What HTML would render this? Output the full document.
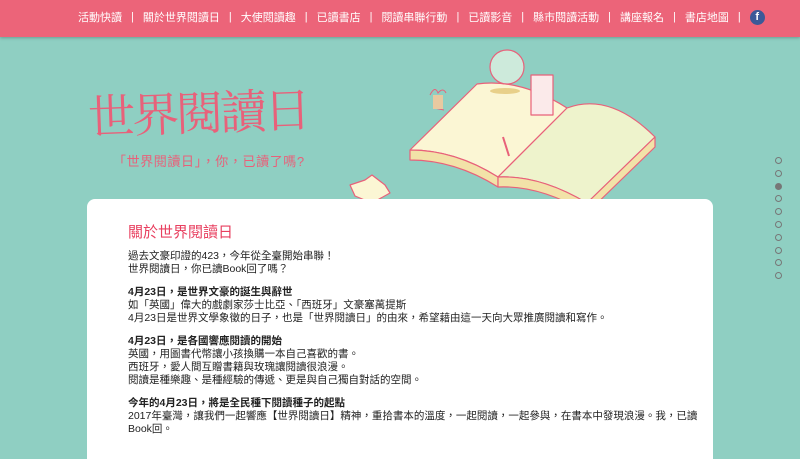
<!DOCTYPE html>
<html><head><meta charset="utf-8">
<style>
*{margin:0;padding:0;box-sizing:border-box}
body{width:800px;height:439px;overflow:hidden;background:#8fcfc2;font-family:"Liberation Sans","Noto Sans CJK TC",sans-serif;position:relative}
#nav{position:absolute;left:0;top:0;width:800px;height:37px;background:#ec6479;box-shadow:0 1px 3px rgba(0,0,0,.25)}
#nav .items{position:absolute;left:78px;top:9px;font-size:11px;color:#fff;white-space:nowrap;display:flex;align-items:center}
#nav .items span{display:inline-block}
#nav .sep{margin:0 9px}
#fb{display:inline-block;width:15px;height:15px;border-radius:50%;background:#3b5998;color:#fff;font-size:11px;font-weight:bold;text-align:center;line-height:15px}
#title{position:absolute;left:88px;top:76px;font-family:"Noto Serif CJK SC","Liberation Serif",serif;font-size:47px;line-height:70px;color:#e8617a;letter-spacing:-3px;transform:rotate(-2deg)}
#sub{position:absolute;left:113px;top:151px;font-size:13px;color:#e8617a;letter-spacing:0.6px}
#card{position:absolute;left:87px;top:199px;width:626px;height:260px;background:#fff;border-radius:8px 8px 0 0}
#card h2{position:absolute;left:41px;top:22px;font-size:15px;color:#e84060;font-weight:normal}
#card .t{position:absolute;left:41px;top:51px;font-size:10.5px;line-height:13px;color:#222;width:580px}
#card .t b{font-weight:bold}
#card p{margin-bottom:10px}
.dots{position:absolute;left:775px;top:157px}
.dot{width:7px;height:7px;border:1px solid #777;border-radius:50%;margin-bottom:5.8px}
.dot.on{background:#777}
</style></head><body>
<div id="nav">
<div class="items">
<span>活動快讀</span><span class="sep">|</span>
<span>關於世界閱讀日</span><span class="sep">|</span>
<span>大使閱讀趣</span><span class="sep">|</span>
<span>已讀書店</span><span class="sep">|</span>
<span>閱讀串聯行動</span><span class="sep">|</span>
<span>已讀影音</span><span class="sep">|</span>
<span>縣市閱讀活動</span><span class="sep">|</span>
<span>講座報名</span><span class="sep">|</span>
<span>書店地圖</span><span class="sep">|</span>
<span id="fb">f</span>
</div></div>
<div id="title">世界閱讀日</div>
<div id="sub">「世界閱讀日」，你，已讀了嗎?</div>
<svg style="position:absolute;left:0;top:0" width="800" height="439">
<g stroke="#e8617a" stroke-width="1.2" stroke-linejoin="round">
<path d="M410,150 L477,84 Q520,78 567,108 L498,177 Q455,150 410,150Z" fill="#fbf6d4"/>
<path d="M410,150 L410,160 Q455,160 498,187 L498,177 Q455,150 410,150Z" fill="#f2e2a8"/>
<path d="M498,177 L567,108 Q610,92 655,137 L587,203 Q540,175 498,177Z" fill="#eef3cc"/>
<path d="M498,177 L498,187 Q540,185 587,213 L655,147 L655,137 L587,203 Q540,175 498,177Z" fill="#f2e2a8"/>
<circle cx="507" cy="67" r="17" fill="#cdeadb"/>
<rect x="531" y="75" width="22" height="40" fill="#fbeaea"/>
<path d="M355,196 L350,185 L365,180 L372,175 L385,185 L390,193 L372,203Z" fill="#fbf6d4"/>
</g>
<ellipse cx="505" cy="91" rx="15" ry="3" fill="#e8d08a"/>
<path d="M430,95 q5,-10 8,-2 q5,-6 8,0 M434,108 l10,2" stroke="#e8617a" fill="none"/>
<rect x="433" y="95" width="10" height="14" fill="#e8c9a0"/>
<line x1="503" y1="137" x2="509" y2="156" stroke="#e8617a" stroke-width="2"/>
</svg>
<div id="card">
<h2>關於世界閱讀日</h2>
<div class="t">
<p>過去文豪印證的423，今年從全臺開始串聯！<br>世界閱讀日，你已讀Book回了嗎？</p>
<p><b>4月23日，是世界文豪的誕生與辭世</b><br>如「英國」偉大的戲劇家莎士比亞、「西班牙」文豪塞萬提斯<br>4月23日是世界文學象徵的日子，也是「世界閱讀日」的由來，希望藉由這一天向大眾推廣閱讀和寫作。</p>
<p><b>4月23日，是各國響應閱讀的開始</b><br>英國，用圖書代幣讓小孩換購一本自己喜歡的書。<br>西班牙，愛人間互贈書籍與玫瑰讓閱讀很浪漫。<br>閱讀是種樂趣、是種經驗的傳遞、更是與自己獨自對話的空間。</p>
<p><b>今年的4月23日，將是全民種下閱讀種子的起點</b><br>2017年臺灣，讓我們一起響應【世界閱讀日】精神，重拾書本的溫度，一起閱讀，一起參與，在書本中發現浪漫。我，已讀<br>Book回。</p>
</div></div>
<div class="dots">
<div class="dot"></div>
<div class="dot"></div>
<div class="dot on"></div>
<div class="dot"></div>
<div class="dot"></div>
<div class="dot"></div>
<div class="dot"></div>
<div class="dot"></div>
<div class="dot"></div>
<div class="dot"></div>
</div>
</body></html>
